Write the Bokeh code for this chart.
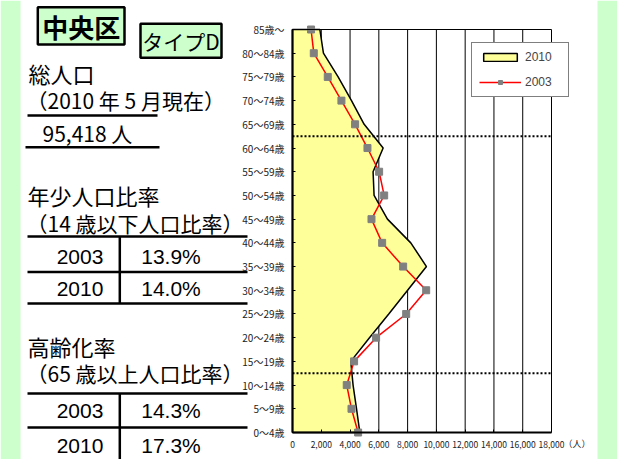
from bokeh.plotting import figure
from bokeh.models import (Range1d, FixedTicker, NumeralTickFormatter, Legend,
                          LegendItem, ColumnDataSource, LinearAxis)
from bokeh.core.properties import value
from bokeh.embed import file_html
from bokeh.resources import INLINE

# ---------------- data ----------------
age_labels = ["0～4歳", "5～9歳", "10～14歳", "15～19歳", "20～24歳", "25～29歳",
              "30～34歳", "35～39歳", "40～44歳", "45～49歳", "50～54歳", "55～59歳",
              "60～64歳", "65～69歳", "70～74歳", "75～79歳", "80～84歳", "85歳～"]
pop_2010 = [4680, 4450, 4210, 4050, 5350, 6690, 8000, 9310, 8220, 6600,
            5670, 5600, 6300, 4980, 4100, 3170, 2150, 1900]
pop_2003 = [4560, 4100, 3770, 4280, 5810, 7900, 9290, 7690, 6230, 5490,
            6370, 6020, 5210, 4350, 3400, 2450, 1480, 1290]
x_ticks = [0, 2000, 4000, 6000, 8000, 10000, 12000, 14000, 16000, 18000]
band_edges = [2.5, 12.5]          # boundaries: under 15 / 65 and over
unit_label = "（人）"

ward_name = "中央区"
ward_type = "タイプD"
total_pop_text = "95,418 人"
years = ["2003", "2010"]
youth_ratio = ["13.9%", "14.0%"]
aged_ratio = ["14.3%", "17.3%"]

# ---------------- layout constants (pixels) ----------------
W, H = 617, 459
FRAME_L, FRAME_R, FRAME_T, FRAME_B = 292, 551, 29, 432
GREEN = "#CCFFCC"
YELLOW = "#FFFF99"
JP = value("Noto Sans CJK JP")
LAT = value("Liberation Sans")

idx = list(range(len(age_labels)))
n_max = idx[-1]
kx = x_ticks[-1] / (FRAME_R - FRAME_L)          # people per pixel
ky = n_max / (FRAME_B - FRAME_T)                # age classes per pixel

p = figure(width=W, height=H, x_range=Range1d(0, W), y_range=Range1d(H, 0),
           x_axis_type=None, y_axis_type=None, toolbar_location=None,
           min_border=0, outline_line_color=None, output_backend="svg")
p.grid.visible = False
p.extra_x_ranges = {"pop": Range1d(-FRAME_L * kx, (W - FRAME_L) * kx)}
p.extra_y_ranges = {"age": Range1d(-(H - FRAME_B) * ky, FRAME_B * ky)}

# ---------------- page decoration ----------------
p.quad(left=[0], right=[20], top=[0], bottom=[H], fill_color=GREEN, line_color=None)
p.quad(left=[597], right=[W], top=[0], bottom=[H], fill_color=GREEN, line_color=None)

# ---------------- left text panel ----------------
p.quad(left=[37.3], right=[124], top=[6.7], bottom=[44], fill_color=GREEN,
       line_color="black", line_width=2.5)
p.quad(left=[140], right=[221], top=[23.3], bottom=[57.3], fill_color=GREEN,
       line_color="black", line_width=2.5)


def jtext(x, y, s, size="21px", align="left", font=JP, bold=False):
    p.text(x=[x], y=[y], text=[s], text_font=font, text_font_size=value(size),
           text_align=align, text_baseline="middle", text_color="black",
           text_font_style="bold" if bold else "normal")


def hline(x0, x1, y):
    p.segment(x0=[x0], y0=[y], x1=[x1], y1=[y], line_color="black", line_width=2.5)


def vline(x, y0, y1):
    p.segment(x0=[x], y0=[y0], x1=[x], y1=[y1], line_color="black", line_width=2.5)


jtext(80.7, 26, ward_name, "26px", "center", bold=True)
jtext(180.5, 40.5, ward_type, "21px", "center")

jtext(28, 72, "総人口", "22px")
jtext(26, 99, "（2010 年 5 月現在）")
hline(27, 157, 115)
jtext(42, 132, total_pop_text)
hline(25, 159, 146.7)

jtext(27, 194, "年少人口比率", "22px")
jtext(26, 222, "（14 歳以下人口比率）")
for yy in [236, 271.5, 303]:
    hline(27, 247, yy)
vline(119.3, 236, 303)
for yr, r, yy in zip(years, youth_ratio, [256, 288]):
    jtext(79.5, yy, yr, "21px", "center", LAT)
    jtext(170.5, yy, r, "21px", "center", LAT)

jtext(27, 345, "高齢化率", "22px")
jtext(26, 372, "（65 歳以上人口比率）")
for yy in [393, 427]:
    hline(27, 247, yy)
vline(119.3, 393, H)
for yr, r, yy in zip(years, aged_ratio, [410, 445]):
    jtext(79.5, yy, yr, "21px", "center", LAT)
    jtext(170.5, yy, r, "21px", "center", LAT)

# ---------------- pyramid chart ----------------
R = dict(x_range_name="pop", y_range_name="age")

# vertical grid lines (under the area)
p.segment(x0=x_ticks, y0=[idx[0]] * len(x_ticks), x1=x_ticks, y1=[n_max] * len(x_ticks),
          line_color="black", line_width=1, **R)

r2010 = p.patch(x=[0] + pop_2010 + [0], y=[idx[0]] + idx + [n_max],
                fill_color=YELLOW, line_color="black", line_width=1.5, **R)
src03 = ColumnDataSource(dict(x=pop_2003, y=idx))
l2003 = p.line("x", "y", source=src03, line_color="#FF0000", line_width=1.5, **R)
s2003 = p.scatter("x", "y", source=src03, marker="square", size=7,
                  fill_color="#808080", line_color="#808080", **R)

p.segment(x0=[x_ticks[0]] * len(band_edges), y0=band_edges,
          x1=[x_ticks[-1]] * len(band_edges), y1=band_edges,
          line_color="black", line_width=2, line_dash="2 2", **R)

xaxis = LinearAxis(fixed_location=0, bounds=(x_ticks[0], x_ticks[-1]),
                   ticker=FixedTicker(ticks=x_ticks),
                   formatter=NumeralTickFormatter(format="0,0"), **R)
yaxis = LinearAxis(fixed_location=0, bounds=(idx[0], n_max),
                   ticker=FixedTicker(ticks=idx),
                   major_label_overrides={i: lab for i, lab in zip(idx, age_labels)}, **R)
topaxis = LinearAxis(fixed_location=n_max, bounds=(x_ticks[0], x_ticks[-1]),
                     ticker=FixedTicker(ticks=[]), axis_line_width=1,
                     axis_line_color="black", **R)
for ax in (xaxis, yaxis):
    ax.axis_line_color = "black"
    ax.axis_line_width = 2
    ax.major_tick_in = 3
    ax.major_tick_out = 0
    ax.major_tick_line_color = "black"
    ax.minor_tick_line_color = None
    ax.major_label_text_font = "Noto Sans CJK JP"
    ax.major_label_text_color = "#222222"
xaxis.major_label_text_font_size = "8.5px"
yaxis.major_label_text_font_size = "10px"
xaxis.major_label_standoff = 8
yaxis.major_label_standoff = 8
p.add_layout(xaxis, "below")
p.add_layout(yaxis, "left")
p.add_layout(topaxis, "above")

p.text(x=[x_ticks[-1]], y=[idx[0]], text=[unit_label], x_offset=12, y_offset=11,
       text_font=JP, text_font_size=value("9px"), text_baseline="middle",
       text_align="left", text_color="#222222", **R)

legend = Legend(items=[LegendItem(label="2010", renderers=[r2010]),
                       LegendItem(label="2003", renderers=[l2003, s2003])],
                location=(471, H - 97), glyph_width=42, glyph_height=10,
                label_height=12, label_width=36, label_standoff=4, padding=7,
                spacing=11, margin=0, border_line_color="black",
                border_line_width=1.5, background_fill_color="white",
                background_fill_alpha=1, label_text_font="Liberation Sans",
                label_text_font_size="12px")
p.add_layout(legend, "center")

open("out.html", "w").write(file_html(p, INLINE))
